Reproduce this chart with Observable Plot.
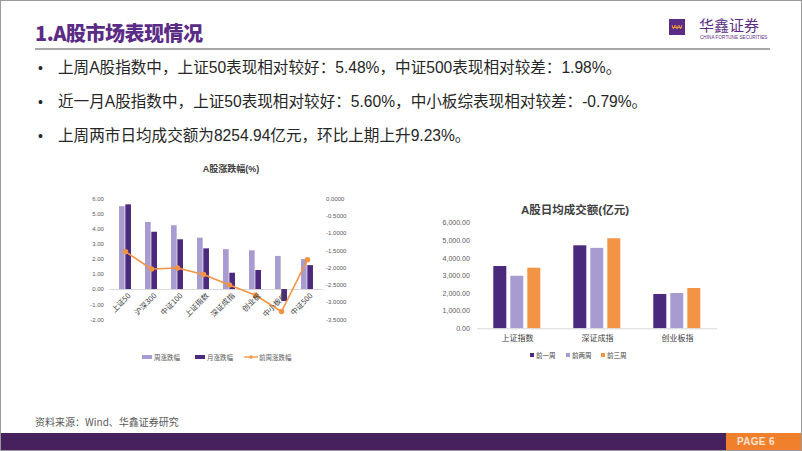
<!DOCTYPE html>
<html>
<head>
<meta charset="utf-8">
<script src="https://cdn.jsdelivr.net/npm/d3@7"></script>
<script src="https://cdn.jsdelivr.net/npm/@observablehq/plot@0.6"></script>
<style>
  html, body { margin: 0; padding: 0; background: #fff; }
  #slide { position: relative; width: 802px; height: 451px; overflow: hidden; background: #fff;
           font-family: "Liberation Sans", "Noto Sans CJK SC", sans-serif; }
  .abs { position: absolute; white-space: nowrap; }
  #frame { position: absolute; left: 0; top: 0; width: 800px; height: 449px; border: 1px solid #9a9a9a; pointer-events: none; }
  #title { left: 35px; top: 20px; font-size: 20px; font-weight: 900; color: #5b2c86; letter-spacing: -0.5px;
           font-family: "Noto Sans CJK SC", sans-serif; line-height: 26px; }
  #rule { left: 35px; top: 48px; width: 735px; height: 2px; background: #a8a8a8; }
  #logoBox { left: 669px; top: 19px; width: 16px; height: 16px; background: #5b2c86; }
  #logoText { left: 699px; top: 16px; font-size: 15px; color: #5b2c86; font-family: "Noto Sans CJK SC", sans-serif; line-height: 18px; }
  #logoSub { left: 700px; top: 35px; font-size: 4.6px; color: #5b2c86; letter-spacing: 0.05px; line-height: 6px; }
  .bullet { left: 38px; font-size: 14px; color: #262626; line-height: 22px; }
  .btext { left: 58px; font-size: 15.6px; color: #262626; line-height: 22px; }
  .ctitle { font-weight: 700; color: #404040; text-align: center; font-family: "Liberation Sans", "Noto Sans CJK SC", sans-serif; }
  .leg { font-size: 6.5px; color: #595959; font-family: "Noto Sans CJK SC", sans-serif; line-height: 8px; }
  #source { left: 35px; top: 415px; font-size: 10px; color: #595959; line-height: 14px; font-family: "Noto Sans CJK SC", sans-serif; }
  #bottomBar { left: 0; top: 433px; width: 802px; height: 18px; background: #46215d; }
  #pageBox { left: 726px; top: 433px; width: 76px; height: 18px; background: #f0802c; }
  #pageText { left: 737px; top: 436px; font-size: 10px; font-weight: 700; color: #fbe3cf; line-height: 12px; letter-spacing: 0.3px;
              font-family: "Liberation Sans Narrow", "Liberation Sans", sans-serif; }
  #chartL { left: 80px; top: 185px; }
  #chartR { left: 400px; top: 215px; }
</style>
</head>
<body>
<div id="slide">
  <div id="title" class="abs">1.A股市场表现情况</div>
  <div id="rule" class="abs"></div>
  <div id="logoBox" class="abs">
    <svg width="16" height="16" viewBox="0 0 16 16">
      <path d="M3 6 L4.5 10 L6 6 M6.5 6 L8 10 L9.5 6 M10 6 L11.5 10 L13 6 M3 8.5 H13" stroke="#f29a3a" stroke-width="0.9" fill="none"/>
    </svg>
  </div>
  <div id="logoText" class="abs">华鑫证券</div>
  <div id="logoSub" class="abs">CHINA FORTUNE SECURITIES</div>

  <div class="abs bullet" style="top:57px">•</div>
  <div class="abs btext" style="top:57px">上周A股指数中，上证50表现相对较好：5.48%，中证500表现相对较差：1.98%。</div>
  <div class="abs bullet" style="top:91px">•</div>
  <div class="abs btext" style="top:91px">近一月A股指数中，上证50表现相对较好：5.60%，中小板综表现相对较差：-0.79%。</div>
  <div class="abs bullet" style="top:125px">•</div>
  <div class="abs btext" style="top:125px">上周两市日均成交额为8254.94亿元，环比上期上升9.23%。</div>

  <div class="abs ctitle" style="left:131px; width:200px; top:163px; font-size:9px; line-height:12px;">A股涨跌幅(%)</div>
  <div id="chartL" class="abs"></div>
  <div id="legL"></div>

  <div class="abs ctitle" style="left:475px; width:200px; top:203px; font-size:11.5px; line-height:15px;">A股日均成交额(亿元)</div>
  <div id="chartR" class="abs"></div>
  <div id="legR"></div>

  <div id="source" class="abs">资料来源：Wind、华鑫证券研究</div>
  <div id="bottomBar" class="abs"></div>
  <div id="pageBox" class="abs"></div>
  <div id="pageText" class="abs">PAGE 6</div>
  <div id="frame"></div>
</div>
<script>
// ---------- Left chart data: A股涨跌幅(%) ----------
const indexNames = ["上证50", "沪深300", "中证100", "上证指数", "深证成指", "创业板", "中小板综", "中证500"];
const weekChange = [5.48, 4.44, 4.22, 3.40, 2.64, 2.56, 2.19, 1.98];      // 周涨跌幅 (left axis)
const monthChange = [5.60, 3.79, 3.29, 2.69, 1.08, 1.26, -0.79, 1.58];    // 月涨跌幅 (left axis)
const prevWeekChange = [-1.53, -2.03, -2.00, -2.19, -2.49, -2.79, -3.26, -1.76]; // 前周涨跌幅 (right axis)
const leftTicks = [-2, -1, 0, 1, 2, 3, 4, 5, 6];
const rightTicks = [0, -0.5, -1, -1.5, -2, -2.5, -3, -3.5];
const leftSeriesNames = ["周涨跌幅", "月涨跌幅", "前周涨跌幅"];

// ---------- Right chart data: A股日均成交额(亿元) ----------
const marketNames = ["上证指数", "深证成指", "创业板指"];
const weekNames = ["前一周", "前两周", "前三周"];
const turnoverW1 = [3539.9, 4715.0, 1950];
const turnoverW2 = [2985, 4572, 2006];
const turnoverW3 = [3443, 5114, 2290];
const turnoverTicks = [0, 1000, 2000, 3000, 4000, 5000, 6000];

const C_LIGHT = "#a89bd0", C_DARK = "#4b2a7d", C_ORANGE = "#f29443";
const FONT = "'Liberation Sans', 'Noto Sans CJK SC', sans-serif";

// right axis domain [-3.5, 0] mapped onto left domain [-2, 6]
const L0 = -2, L1 = 6, R0 = -3.5, R1 = 0;
const toLeft = v => L0 + (v - R0) * (L1 - L0) / (R1 - R0);
const fromLeft = p => R0 + (p - L0) * (R1 - R0) / (L1 - L0);

const rowsL = indexNames.map((c, i) => ({cat: c, week: weekChange[i], month: monthChange[i], prev: prevWeekChange[i]}));

const W_L = 295, H_L = 160, ML = 29.4, MR = 52.4;
const band = (W_L - ML - MR) / indexNames.length;
const barW = 6.3;

const chartL = Plot.plot({
  width: W_L, height: H_L,
  marginLeft: ML, marginRight: MR, marginTop: 13.3, marginBottom: 25.7,
  style: {fontFamily: FONT, fontSize: "6px", color: "#595959", background: "transparent", overflow: "visible"},
  x: {type: "band", domain: indexNames, padding: 0, axis: null, label: null},
  y: {domain: [L0, L1], axis: null, label: null},
  marks: [
    Plot.ruleY([0], {stroke: "#d9d9d9", strokeWidth: 1}),
    Plot.barY(rowsL, {x: "cat", y: "week", fill: C_LIGHT, insetLeft: band / 2 - barW, insetRight: band / 2}),
    Plot.barY(rowsL, {x: "cat", y: "month", fill: C_DARK, insetLeft: band / 2, insetRight: band / 2 - barW}),
    Plot.lineY(rowsL, {x: "cat", y: d => toLeft(d.prev), stroke: C_ORANGE, strokeWidth: 1.6}),
    Plot.dot(rowsL, {x: "cat", y: d => toLeft(d.prev), r: 2, fill: C_ORANGE, stroke: C_ORANGE}),
    Plot.text(rowsL, {x: "cat", y: 0, text: "cat", rotate: -45, textAnchor: "end", dx: 4, dy: 5,
                      fontSize: 7.5, fill: "#404040", fontFamily: "'Noto Sans CJK SC', sans-serif"}),
    Plot.axisY(leftTicks, {anchor: "left", tickSize: 0, tickPadding: 6, label: null, tickFormat: d => d.toFixed(2), fontSize: 6}),
    Plot.axisY(rightTicks.map(toLeft), {anchor: "right", tickSize: 0, tickPadding: 3, fontSize: 6, label: null,
      tickFormat: p => { const v = fromLeft(p); return (Math.abs(v) < 1e-9 ? 0 : v).toFixed(4); }})
  ]
});
document.getElementById("chartL").appendChild(chartL);

// Left legend
const legL = document.getElementById("legL");
const legLItems = [
  {name: leftSeriesNames[0], x: 142, type: "bar", color: C_LIGHT},
  {name: leftSeriesNames[1], x: 195, type: "bar", color: C_DARK},
  {name: leftSeriesNames[2], x: 244, type: "line", color: C_ORANGE}
];
for (const it of legLItems) {
  const sw = document.createElement("div");
  sw.className = "abs";
  if (it.type === "bar") {
    sw.style.cssText = `left:${it.x}px; top:355px; width:10px; height:4px; background:${it.color};`;
  } else {
    sw.innerHTML = `<svg width="14" height="6"><line x1="0" y1="3" x2="14" y2="3" stroke="${it.color}" stroke-width="1.3"/><circle cx="7" cy="3" r="1.8" fill="${it.color}"/></svg>`;
    sw.style.cssText = `left:${it.x}px; top:354px; line-height:0;`;
  }
  legL.appendChild(sw);
  const t = document.createElement("div");
  t.className = "abs leg";
  t.style.left = (it.x + (it.type === "bar" ? 12 : 15)) + "px";
  t.style.top = "353px";
  t.textContent = it.name;
  legL.appendChild(t);
}

// ---------- Right chart ----------
const turnoverSeries = [turnoverW1, turnoverW2, turnoverW3];
const rowsR = [];
marketNames.forEach((m, i) => weekNames.forEach((w, j) => rowsR.push({cat: m, wk: w, v: turnoverSeries[j][i]})));

const chartR = Plot.plot({
  width: 380, height: 135,
  marginLeft: 76.7, marginRight: 62, marginTop: 7.7, marginBottom: 21.7,
  style: {fontFamily: FONT, fontSize: "7px", color: "#595959", background: "transparent", overflow: "visible"},
  fx: {domain: marketNames, padding: 0, axis: null, label: null},
  x: {domain: weekNames, paddingInner: 0.222, paddingOuter: 0.85, axis: null, label: null},
  y: {domain: [0, 6000], axis: null, label: null},
  color: {domain: weekNames, range: [C_DARK, C_LIGHT, C_ORANGE]},
  marks: [
    Plot.barY(rowsR, {fx: "cat", x: "wk", y: "v", fill: "wk"}),
    Plot.ruleY([0], {stroke: "#d9d9d9", strokeWidth: 1}),
    Plot.axisY(turnoverTicks, {anchor: "left", tickSize: 0, tickPadding: 7.7, fontSize: 7, label: null, tickFormat: d3.format(",.2f")}),
    Plot.axisFx({anchor: "bottom", tickSize: 0, tickPadding: 6.5, fontSize: 8, label: null, color: "#404040",
                 fontFamily: "'Noto Sans CJK SC', sans-serif"})
  ]
});
document.getElementById("chartR").appendChild(chartR);

// Right legend
const legR = document.getElementById("legR");
const legRX = [530, 566, 601];
weekNames.forEach((w, j) => {
  const sw = document.createElement("div");
  sw.className = "abs";
  sw.style.cssText = `left:${legRX[j]}px; top:352.5px; width:4px; height:4px; background:${[C_DARK, C_LIGHT, C_ORANGE][j]};`;
  legR.appendChild(sw);
  const t = document.createElement("div");
  t.className = "abs leg";
  t.style.cssText = `left:${legRX[j] + 6}px; top:350.5px; font-size:6.5px; color:#404040;`;
  t.textContent = w;
  legR.appendChild(t);
});
</script>
</body>
</html>
